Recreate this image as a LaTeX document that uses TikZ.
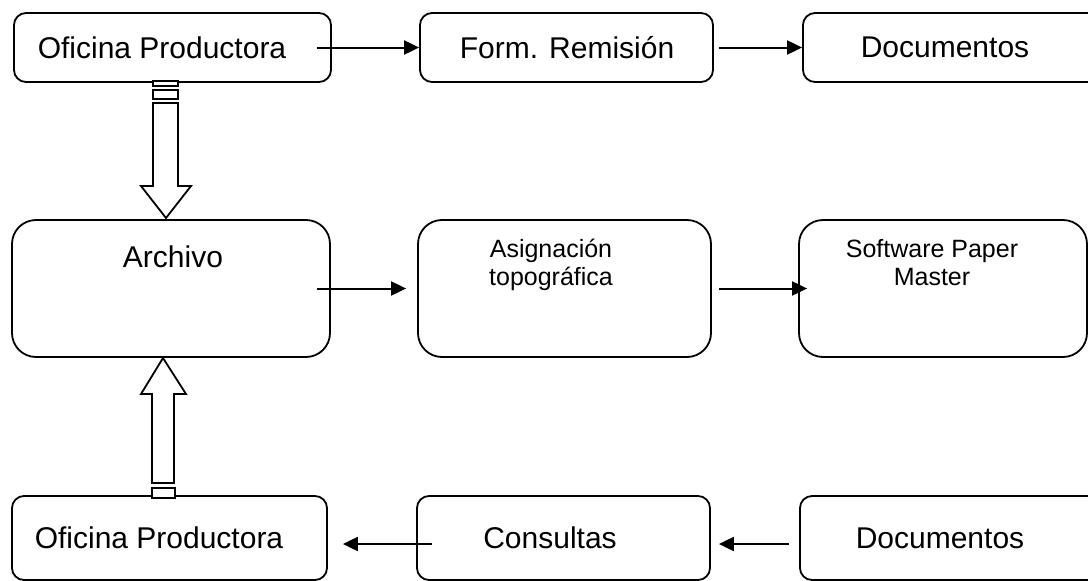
\documentclass[tikz,border=0pt]{standalone}
\usepackage{fontspec}
\setmainfont{Liberation Sans}
\usetikzlibrary{arrows.meta}
\begin{document}
\begin{tikzpicture}[x=1pt,y=-1pt,
  box/.style={draw,line width=1.8pt,rounded corners=12pt,inner sep=0pt},
  bigbox/.style={draw,line width=1.8pt,rounded corners=24pt,inner sep=0pt},
  big/.style={font=\fontsize{30}{36}\selectfont},
  small/.style={font=\fontsize{25}{28}\selectfont,align=center},
  conn/.style={line width=2pt,-{Triangle[length=15pt,width=14pt]}},
  blk/.style={draw,line width=1.8pt,fill=white}]
\useasboundingbox (0,0) rectangle (1088,581);
% top row
\node[box,minimum width=317pt,minimum height=69pt] (op1) at (172.5,47.5) {};
\node[big] at (162,47.5) {Oficina Productora};
\node[box,minimum width=293pt,minimum height=69pt] (fr) at (566.5,47.5) {};
\node[big] at (567,47.5) {Form. Remisión};
\node[box,minimum width=300pt,minimum height=69pt] (doc1) at (953,47.5) {};
\node[big] at (945,47.5) {Documentos};
% middle row
\node[bigbox,minimum width=318pt,minimum height=137pt] (arch) at (171,288.5) {};
\node[big] at (173,257) {Archivo};
\node[bigbox,minimum width=293pt,minimum height=137pt] (asig) at (564.5,288.5) {};
\node[small,anchor=north] at (551,236) {Asignación\\topográfica};
\node[bigbox,minimum width=288pt,minimum height=137pt] (soft) at (943,288.5) {};
\node[small,anchor=north] at (932,236) {Software Paper\\Master};
% bottom row
\node[box,minimum width=315pt,minimum height=84pt] (op2) at (169.5,538) {};
\node[big] at (159,538) {Oficina Productora};
\node[box,minimum width=293pt,minimum height=84pt] (cons) at (563.5,538) {};
\node[big] at (550,538) {Consultas};
\node[box,minimum width=300pt,minimum height=84pt] (doc2) at (950,538) {};
\node[big] at (940,538) {Documentos};
% connectors
\draw[conn] ([xshift=-15pt]op1.east) -- (fr.west);
\draw[conn] ([xshift=5pt]fr.east) -- (doc1.west);
\draw[conn] ([xshift=-14pt]arch.east) -- ([xshift=-11pt]asig.west);
\draw[conn] ([xshift=7pt]asig.east) -- ([xshift=9pt]soft.west);
\draw[conn] ([xshift=16pt,yshift=-6pt]cons.west) -- ([xshift=15pt,yshift=-6pt]op2.east);
\draw[conn] ([xshift=-10pt,yshift=-6pt]doc2.west) -- ([xshift=8pt,yshift=-6pt]cons.east);
% block arrows
\draw[blk] (153,81) rectangle (178,86);
\draw[blk] (153,90) rectangle (178,99);
\draw[blk] (153,103) -- (153,186) -- (141,186) -- (166,218) -- (191,186) -- (178,186) -- (178,103) -- cycle;
\draw[blk] (163,358) -- (186,394) -- (174,394) -- (174,483) -- (152,483) -- (152,394) -- (141,394) -- cycle;
\draw[blk] (152,488) rectangle (175,498);
\end{tikzpicture}
\end{document}
